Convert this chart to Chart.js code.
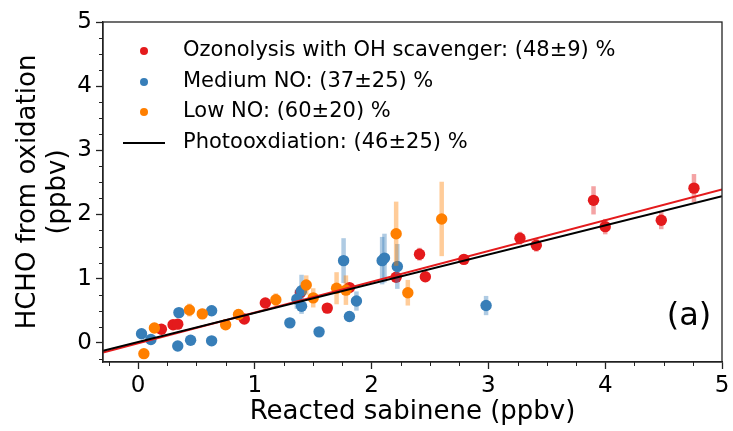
<!DOCTYPE html>
<html>
<head>
<meta charset="utf-8">
<script src="https://cdn.jsdelivr.net/npm/chart.js@4.4.1/dist/chart.umd.min.js"></script>
<style>
    html, body { margin: 0; padding: 0; background: #fff; }
    #wrap { width: 733px; height: 431px; }
</style>
</head>
<body>
<div id="wrap"><canvas id="myChart" width="733" height="431"></canvas></div>
<script>
// Ozonolysis with OH scavenger
const ozoX = [0.20, 0.30, 0.34, 0.91, 1.09, 1.39, 1.62, 1.81, 2.21, 2.41, 2.46, 2.79, 3.27, 3.41, 3.90, 4.00, 4.48, 4.76];
const ozoY = [0.21, 0.28, 0.29, 0.37, 0.62, 0.78, 0.54, 0.86, 1.02, 1.38, 1.03, 1.30, 1.63, 1.52, 2.22, 1.81, 1.91, 2.41];
const ozoErr = [0.03, 0.03, 0.03, 0.04, 0.05, 0.05, 0.05, 0.06, 0.07, 0.10, 0.07, 0.08, 0.10, 0.10, 0.22, 0.12, 0.14, 0.22];

// Medium NO
const medX = [0.03, 0.11, 0.34, 0.35, 0.45, 0.63, 0.63, 1.30, 1.36, 1.40, 1.40, 1.55, 1.76, 1.81, 1.87, 2.09, 2.11, 2.22, 2.98];
const medY = [0.14, 0.05, -0.05, 0.47, 0.04, 0.50, 0.03, 0.31, 0.68, 0.57, 0.81, 0.17, 1.28, 0.41, 0.65, 1.28, 1.32, 1.19, 0.58];
const medErr = [0.03, 0.03, 0.03, 0.07, 0.03, 0.08, 0.03, 0.05, 0.15, 0.12, 0.25, 0.05, 0.35, 0.08, 0.15, 0.37, 0.38, 0.35, 0.15];

// Low NO
const lowX = [0.05, 0.14, 0.44, 0.55, 0.75, 0.86, 1.18, 1.44, 1.50, 1.70, 1.78, 2.21, 2.31, 2.60];
const lowY = [-0.17, 0.23, 0.51, 0.45, 0.28, 0.44, 0.67, 0.90, 0.70, 0.85, 0.82, 1.70, 0.78, 1.93];
const lowErr = [0.03, 0.04, 0.10, 0.08, 0.05, 0.08, 0.10, 0.15, 0.15, 0.25, 0.23, 0.50, 0.20, 0.58];

// linear fits (slope, intercept)
const ozoFit = [0.48, -0.01];
const photoFit = [0.455, 0.01];

const labels = [
    'Ozonolysis with OH scavenger: (48\u00b19) %',
    'Medium NO: (37\u00b125) %',
    'Low NO: (60\u00b120) %',
    'Photooxdiation: (46\u00b125) %'
];

const xRange = [-0.3, 5];
const yRange = [-0.3, 5];

const FONT = 'DejaVu Sans';

function points(xs, ys) {
    return xs.map((x, i) => ({ x: x, y: ys[i] }));
}

function fitLine(fit) {
    return xRange.map(x => ({ x: x, y: fit[0] * x + fit[1] }));
}

const errorBars = {
    id: 'errorBars',
    beforeDatasetDraw(chart, args) {
        const ds = chart.data.datasets[args.index];
        if (!ds.errors) return;
        const { ctx, chartArea, scales: { x, y } } = chart;
        ctx.save();
        ctx.beginPath();
        ctx.rect(chartArea.left, chartArea.top, chartArea.right - chartArea.left, chartArea.bottom - chartArea.top);
        ctx.clip();
        ctx.strokeStyle = ds.errorColor;
        ctx.lineWidth = 4.5;
        ds.data.forEach((p, i) => {
            const px = x.getPixelForValue(p.x);
            ctx.beginPath();
            ctx.moveTo(px, y.getPixelForValue(p.y - ds.errors[i]));
            ctx.lineTo(px, y.getPixelForValue(p.y + ds.errors[i]));
            ctx.stroke();
        });
        ctx.restore();
    }
};

const frameAndMinor = {
    id: 'frameAndMinor',
    afterDatasetsDraw(chart) {
        const { ctx, chartArea: a, scales: { x, y } } = chart;
        ctx.save();
        ctx.strokeStyle = '#222';
        ctx.lineWidth = 1;
        for (let v = -0.25; v < 5; v += 0.25) {
            if (Math.abs(v - Math.round(v)) < 1e-6) continue;
            const px = Math.round(x.getPixelForValue(v)) + 0.5;
            if (px > a.left) {
                ctx.beginPath();
                ctx.moveTo(px, a.bottom);
                ctx.lineTo(px, a.bottom + 4);
                ctx.stroke();
            }
            const py = Math.round(y.getPixelForValue(v)) + 0.5;
            if (py < a.bottom) {
                ctx.beginPath();
                ctx.moveTo(a.left, py);
                ctx.lineTo(a.left - 4, py);
                ctx.stroke();
            }
        }
        ctx.lineWidth = 1.3;
        ctx.strokeRect(a.left, a.top, a.right - a.left, a.bottom - a.top);
        ctx.restore();
    },
    afterDraw(chart) {
        const { ctx, chartArea: a } = chart;
        const dsets = chart.data.datasets;
        ctx.save();
        ctx.font = '21px "' + FONT + '"';
        ctx.textBaseline = 'middle';
        ctx.fillStyle = '#000';
        const rows = [51, 82, 112, 143];
        dsets.forEach((ds, i) => {
            if (ds.isExtra) return;
            const yy = a.top + rows[i] - 22;
            if (ds.showLine) {
                ctx.strokeStyle = ds.borderColor;
                ctx.lineWidth = 2;
                ctx.beginPath();
                ctx.moveTo(a.left + 20, yy);
                ctx.lineTo(a.left + 62, yy);
                ctx.stroke();
            } else {
                ctx.fillStyle = ds.backgroundColor;
                ctx.beginPath();
                ctx.arc(a.left + 41, yy, 4, 0, Math.PI * 2);
                ctx.fill();
            }
            ctx.fillStyle = '#000';
            ctx.fillText(ds.label, a.left + 80, yy);
        });
        ctx.font = '32px "' + FONT + '"';
        ctx.textAlign = 'center';
        ctx.fillText('(a)', a.right - 33, a.bottom - 45);
        ctx.restore();
    }
};

const ctx = document.getElementById('myChart').getContext('2d');

new Chart(ctx, {
    type: 'scatter',
    data: {
        datasets: [
            {
                label: labels[0],
                data: points(ozoX, ozoY),
                errors: ozoErr,
                errorColor: 'rgba(228,26,28,0.4)',
                backgroundColor: '#e41a1c',
                borderWidth: 0,
                pointRadius: 5.7,
                order: 3
            },
            {
                label: labels[1],
                data: points(medX, medY),
                errors: medErr,
                errorColor: 'rgba(55,126,184,0.4)',
                backgroundColor: '#377eb8',
                borderWidth: 0,
                pointRadius: 5.7,
                order: 2
            },
            {
                label: labels[2],
                data: points(lowX, lowY),
                errors: lowErr,
                errorColor: 'rgba(255,127,0,0.4)',
                backgroundColor: '#ff7f00',
                borderWidth: 0,
                pointRadius: 5.7,
                order: 1
            },
            {
                label: labels[3],
                data: fitLine(photoFit),
                showLine: true,
                borderColor: '#000',
                backgroundColor: '#000',
                borderWidth: 2,
                pointRadius: 0,
                order: 0
            },
            {
                label: '',
                data: fitLine(ozoFit),
                showLine: true,
                borderColor: '#e41a1c',
                backgroundColor: '#e41a1c',
                borderWidth: 2,
                pointRadius: 0,
                order: 0,
                isExtra: true
            }
        ]
    },
    options: {
        responsive: false,
        animation: false,
        devicePixelRatio: 1,
        layout: { padding: { left: 0, right: 11, top: 22, bottom: 0 } },
        plugins: {
            legend: { display: false },
            tooltip: { enabled: false }
        },
        scales: {
            x: {
                type: 'linear',
                min: xRange[0],
                max: xRange[1],
                afterFit: s => { s.height = 69; },
                border: { display: true, color: '#222', width: 1.3 },
                grid: { drawOnChartArea: false, drawTicks: true, tickLength: 7, tickColor: '#222', tickWidth: 1.3 },
                ticks: {
                    stepSize: 1,
                    includeBounds: false,
                    autoSkip: false,
                    maxRotation: 0,
                    padding: 3,
                    color: '#000',
                    font: { family: FONT, size: 23 },
                    callback: v => String(v)
                },
                title: {
                    display: true,
                    text: 'Reacted sabinene (ppbv)',
                    color: '#000',
                    font: { family: FONT, size: 26, lineHeight: 1.2 },
                    padding: { top: 0, bottom: 3 }
                }
            },
            y: {
                type: 'linear',
                min: yRange[0],
                max: yRange[1],
                afterFit: s => { s.width = 103; },
                border: { display: true, color: '#222', width: 1.3 },
                grid: { drawOnChartArea: false, drawTicks: true, tickLength: 7, tickColor: '#222', tickWidth: 1.3 },
                ticks: {
                    stepSize: 1,
                    includeBounds: false,
                    autoSkip: false,
                    padding: 4,
                    color: '#000',
                    font: { family: FONT, size: 23 },
                    callback: v => String(v)
                },
                title: {
                    display: true,
                    text: ['HCHO from oxidation', '(ppbv)'],
                    color: '#000',
                    font: { family: FONT, size: 26, lineHeight: 1.15 },
                    padding: { top: 13, bottom: 0 }
                }
            }
        }
    },
    plugins: [errorBars, frameAndMinor]
});
</script>
</body>
</html>
